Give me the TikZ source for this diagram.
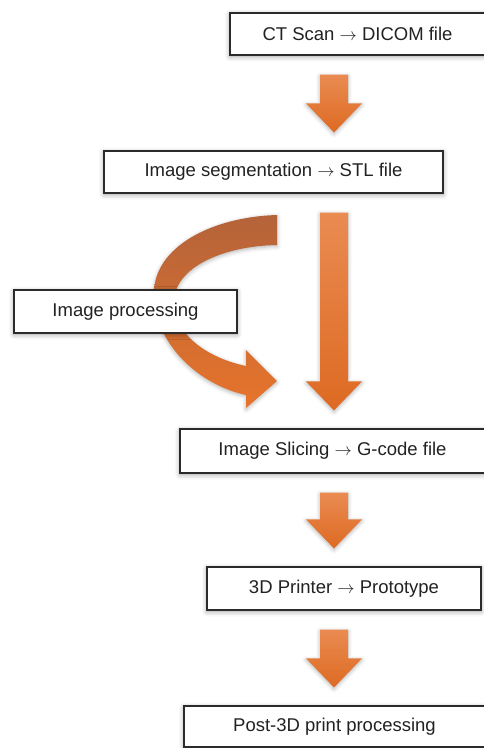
\documentclass[tikz,border=0pt]{standalone}
\usepackage{fontspec}
\setmainfont{Liberation Sans}
\usetikzlibrary{calc,shadows.blur}
\definecolor{FlowTop}{HTML}{EA8B52}
\definecolor{FlowBot}{HTML}{DD6A22}
\definecolor{LoopTop}{HTML}{B4633A}
\definecolor{LoopBot}{HTML}{E7742B}
\definecolor{BoxLine}{HTML}{2B2B2B}
\definecolor{BoxText}{HTML}{222222}
% thin arrow used inside the box texts
\newcommand{\thinarrow}{$\rightarrow$}
% block arrow from the bottom of one box to the top of the next
\newcommand{\flowdown}[2]{%
  \path[flowarrow] let \p1=(#1.south), \p2=(#2.north) in
    (320pt,\y1-19pt) -- (348pt,\y1-19pt) -- (348pt,\y2+47pt) -- (362pt,\y2+47pt)
    -- (334pt,\y2+18pt) -- (306pt,\y2+47pt) -- (320pt,\y2+47pt) -- cycle;}

\begin{document}
\begin{tikzpicture}[x=1pt,y=-1pt]
  \tikzstyle{procbox}=[draw=BoxLine,fill=white,line width=1.2pt,
    minimum height=42pt,inner sep=0pt,text=BoxText,
    font=\fontsize{18.5}{22}\selectfont,
    blur shadow={shadow xshift=0pt,shadow yshift=-1.5pt,
      shadow blur radius=5pt,shadow opacity=40}]
  \tikzstyle{flowarrow}=[top color=FlowTop,bottom color=FlowBot,
    blur shadow={shadow xshift=0pt,shadow yshift=-1.5pt,
      shadow blur radius=4pt,shadow opacity=30}]
  \tikzstyle{looparrow}=[top color=LoopTop,bottom color=LoopBot,
    blur shadow={shadow xshift=0pt,shadow yshift=-1.5pt,
      shadow blur radius=4pt,shadow opacity=30}]
  \useasboundingbox (0,0) rectangle (483,748);
  % curved arrow, runs behind the processing box
  \path[looparrow] (277,215) .. controls (210,217) and (154,248) .. (154,293)
    .. controls (154,345) and (200,385) .. (246,395)
    -- (246,408) -- (277,381) -- (246,350) -- (246,366)
    .. controls (208,358) and (174,335) .. (174,302)
    .. controls (174,268) and (222,246) .. (277,245) -- cycle;
  \node[procbox,minimum width=255pt] (ctscan) at (357.5,34) {CT Scan \thinarrow{} DICOM file};
  \node[procbox,minimum width=339pt] (segment) at (273.5,172) {Image segmentation \thinarrow{} STL file};
  \node[procbox,minimum width=223pt,minimum height=43pt] (imgproc) at (125.5,311.5) {Image processing};
  \node[procbox,minimum width=305pt,minimum height=44pt] (slicing) at (332.5,451) {Image Slicing \thinarrow{} G-code file};
  \node[procbox,minimum width=274pt,minimum height=43pt] (printer) at (344,588.5) {3D Printer \thinarrow{} Prototype};
  \node[procbox,minimum width=301pt,minimum height=41pt] (postproc) at (334.5,726.5) {Post-3D print processing};
  \flowdown{ctscan}{segment}
  \flowdown{segment}{slicing}
  \flowdown{slicing}{printer}
  \flowdown{printer}{postproc}
\end{tikzpicture}
\end{document}
